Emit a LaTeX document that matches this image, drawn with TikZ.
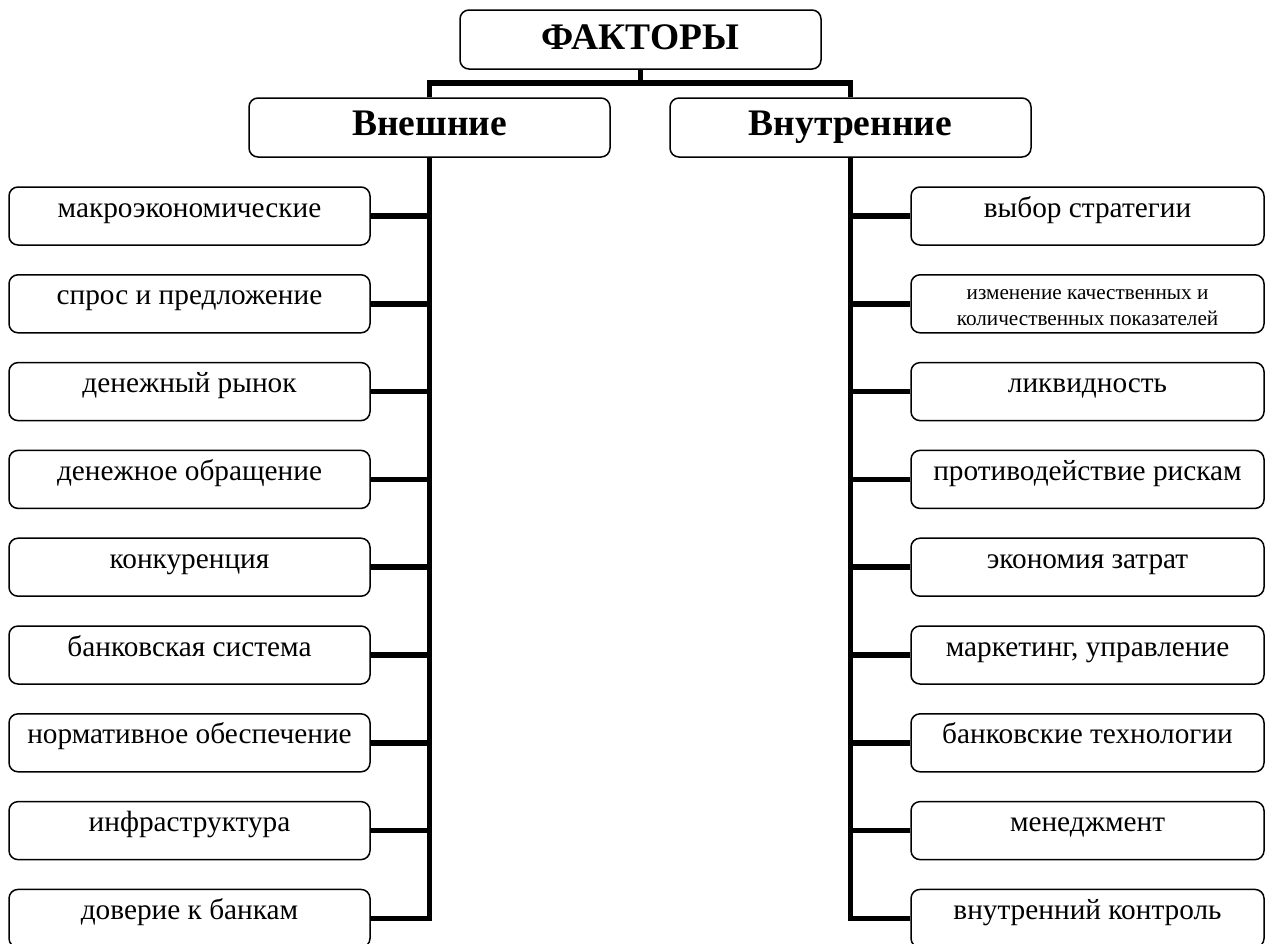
\documentclass[tikz,border=0pt]{standalone}
\usepackage{fontspec}
\setmainfont{Liberation Serif}
\begin{document}
\begin{tikzpicture}[x=1pt,y=-1pt,
  box/.style={draw, line width=1.5pt, rounded corners=9pt, fill=white, inner sep=0pt, align=center},
  lbox/.style={box, minimum width=361pt, minimum height=58pt, font=\fontsize{29.3}{32}\selectfont, text height=16pt, text depth=14pt},
  rbox/.style={box, minimum width=353pt, minimum height=58pt, font=\fontsize{29.3}{32}\selectfont, text height=16pt, text depth=14pt},
  hbox/.style={box, minimum width=361pt, minimum height=59pt, font=\fontsize{37.5}{40}\selectfont\bfseries, text height=26pt, text depth=10pt},
  conn/.style={line width=5.5pt, line join=miter}]
\useasboundingbox (0,0) rectangle (1265,943);
\fill[white] (0,0) rectangle (1265,943);

\node[hbox, text height=28pt, text depth=8pt] (top) at (640.5,39.5) {ФАКТОРЫ};
\node[hbox] (ext) at (429.5,127.5) {Внешние};
\node[hbox] (int) at (850.5,127.5) {Внутренние};

\foreach \i/\t in {1/макроэкономические,2/спрос и предложение,3/денежный рынок,4/денежное обращение,5/конкуренция,6/банковская система,7/нормативное обеспечение,8/инфраструктура,9/доверие к банкам}{
  \node[lbox] (L\i) at (189.5,{216+87.8*(\i-1)}) {\t};
}
\foreach \i/\t in {1/выбор стратегии,3/ликвидность,4/противодействие рискам,5/экономия затрат,6/{маркетинг, управление},7/банковские технологии,8/менеджмент,9/внутренний контроль}{
  \node[rbox] (R\i) at (1087.5,{216+87.8*(\i-1)}) {\t};
}
\node[rbox, font=\fontsize{21.2}{26.7}\selectfont, text height=50pt, text depth=6pt] (R2) at (1087.5,303.8) {изменение качественных и\\количественных показателей};

\coordinate (bar) at (640.5,83);
\draw[conn] (top.south) -- (bar);
\draw[conn] (ext.north) |- (bar) -| (int.north);
\draw[conn] (ext.south) |- (L9.east);
\draw[conn] (int.south) |- (R9.west);
\foreach \i in {1,...,8}{
  \draw[conn] (L\i.east) -- (L\i.east -| ext.south);
  \draw[conn] (R\i.west) -- (R\i.west -| int.south);
}
\end{tikzpicture}
\end{document}
